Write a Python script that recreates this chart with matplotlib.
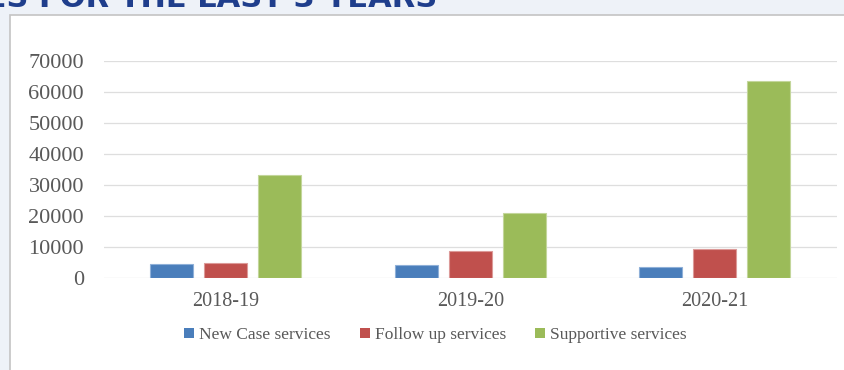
"""
Services for the last 3 years - grouped bar chart.
"""

import numpy as np
import matplotlib
matplotlib.use('Agg')
import matplotlib.pyplot as plt
from matplotlib.patches import Rectangle

# data
years = ['2018-19', '2019-20', '2020-21']
new_case = [4600, 4300, 3500]
follow_up = [5000, 8700, 9400]
supportive = [33400, 21200, 63600]
series_names = ['New Case services', 'Follow up services', 'Supportive services']
y_ticks = [0, 10000, 20000, 30000, 40000, 50000, 60000, 70000]

# styles
COLORS = ['#4a7ebb', '#c0504d', '#9bbb59']
EDGES = ['#8fb0d8', '#dc9a98', '#c3d69b']
TEXT_COLOR = '#595959'
SERIF = ['Liberation Serif', 'DejaVu Serif']

fig = plt.figure(figsize=(8.44, 3.70), dpi=100)
fig.patch.set_facecolor('#eef2f8')

# white chart box with light border
box = Rectangle((10 / 844, -0.01), 1.0, 1 - 14.5 / 370 + 0.01, transform=fig.transFigure,
                facecolor='white', edgecolor='#c4c4c4', linewidth=1.2, zorder=0)
fig.patches.append(box)

# clipped heading at the very top (cut off as in the slide screenshot)
fig.text(437 / 844, 1 - 7 / 370, 'SERVICES FOR THE LAST 3 YEARS', ha='right', va='baseline',
         fontsize=22, fontweight='bold', color='#1f3e8c', family='DejaVu Sans')

ax = fig.add_axes([103.5 / 844, 1 - 278.3 / 370, 733.5 / 844, 217 / 370])
ax.set_zorder(5)
ax.set_facecolor('none')

x = np.arange(len(years))
width = 0.176
step = 0.221
for i, vals in enumerate([new_case, follow_up, supportive]):
    ax.bar(x + (i - 1) * step, vals, width, color=COLORS[i], edgecolor=EDGES[i],
           linewidth=0.8, label=series_names[i], zorder=3)

ax.set_xlim(-0.5, 2.5)
ax.set_ylim(0, 70000)
ax.set_yticks(y_ticks)
ax.set_yticklabels([str(v) for v in y_ticks], family=SERIF, fontsize=16, color=TEXT_COLOR)
ax.set_xticks(x)
ax.set_xticklabels(years, family=SERIF, fontsize=14.5, color=TEXT_COLOR)
ax.tick_params(axis='y', length=0, pad=14)
ax.tick_params(axis='x', length=0, pad=10)
ax.grid(axis='y', color='#dedede', linewidth=0.9, zorder=0)
for s in ax.spines.values():
    s.set_visible(False)

leg = ax.legend(loc='center', bbox_to_anchor=(435.5 / 844, 1 - 335 / 370),
                bbox_transform=fig.transFigure, ncol=3, frameon=False,
                prop={'family': SERIF, 'size': 12.5}, handlelength=0.57,
                handleheight=0.55, handletextpad=0.29, columnspacing=1.67, borderpad=0)
for t in leg.get_texts():
    t.set_color(TEXT_COLOR)
for h in leg.legend_handles:
    h.set_linewidth(0)

plt.savefig('out.png', dpi=100, facecolor=fig.get_facecolor())
